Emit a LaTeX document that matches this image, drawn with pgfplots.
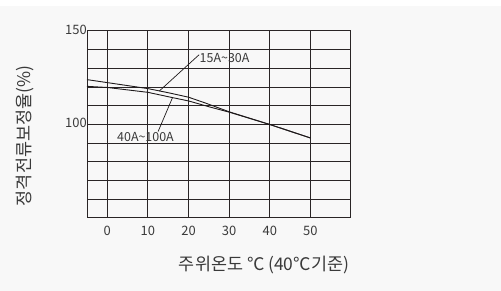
\documentclass[border=0pt]{standalone}
\usepackage{pgfplots}
\pgfplotsset{compat=1.18}
\usepackage{fontspec}
\setmainfont{Noto Sans CJK KR}
\definecolor{bgc}{HTML}{F8F8F8}
\definecolor{gridc}{HTML}{2A2526}
\definecolor{txtc}{HTML}{3A3A3A}
\definecolor{linec}{HTML}{1E1A1B}
\begin{document}
\begin{tikzpicture}
\fill[bgc] (0,0) rectangle (501bp,291bp);
\fill[white] (0,285bp) rectangle (501bp,291bp);
\begin{axis}[
  at={(87bp,73bp)}, anchor=south west,
  scale only axis, width=264bp, height=187bp,
  xmin=-5, xmax=60, ymin=50, ymax=150,
  xtick={0,10,20,30,40,50},
  ytick={50,60,70,80,90,100,110,120,130,140,150},
  yticklabels={,,,,,100,,,,,150},
  major tick length=0pt,
  grid=major,
  major grid style={gridc, line width=1bp},
  axis line style={gridc, line width=1bp},
  /pgf/number format/assume math mode=true,
  ticklabel style={font=\fontsize{13}{15}\selectfont, text=txtc},
  xticklabel style={anchor=center, inner sep=0pt, yshift=-13bp},
  yticklabel style={anchor=east, inner sep=0pt, xshift=0bp, yshift=1.5bp},
  clip=false,
]
% 15A~30A
\addplot[linec, line width=0.9bp] coordinates {
 (-5,124) (0,122.4) (10,119.2) (15,117.0) (20,114.6) (24,111.6) (30,106.8) (40,100) (50,92.8)};
% 40A~100A
\addplot[linec, line width=0.9bp] coordinates {
 (-5,120.4) (0,119.8) (10,117.2) (16,114.4) (20,112.6) (25,109.5) (30,106.6) (40,100) (50,92.8)};
% leader lines
\addplot[linec, line width=0.7bp] coordinates {(22.6,137.3) (12.8,117.9)};
\addplot[linec, line width=0.7bp] coordinates {(12.5,96.2) (16.0,114.1)};
\node[anchor=west, inner sep=0pt, text=txtc, font=\fontsize{12.5}{14}\selectfont] at (axis cs:22.7,135.6) {15A\char`~30A};
\node[anchor=center, inner sep=0pt, text=txtc, font=\fontsize{12.5}{14}\selectfont] at (axis cs:9.4,93.3) {40A\char`~100A};
\end{axis}
\node[text=txtc, font=\fontsize{17.5}{19}\selectfont, inner sep=0pt] at (264bp,26bp) {주위온도 ℃ (40℃기준)};
\node[text=txtc, font=\fontsize{17.5}{19}\selectfont, inner sep=0pt, rotate=90] at (25bp,155bp) {정격전류보정율(\%)};
\end{tikzpicture}
\end{document}
